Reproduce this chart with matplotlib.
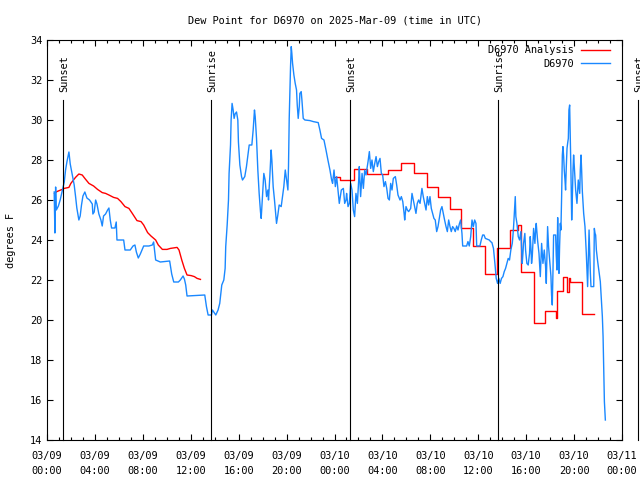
import matplotlib
matplotlib.use("Agg")
import matplotlib.pyplot as plt
from matplotlib.ticker import MultipleLocator, FixedLocator

# hours since 03/09 00:00 UTC
obs_hours = [0.60, 0.66, 0.72, 0.78, 0.95, 1.10, 1.25, 1.32, 1.44, 1.55, 1.66, 1.83, 1.94, 2.10,
             2.27, 2.38, 2.49, 2.66, 2.77, 2.88, 3.00, 3.16, 3.33, 3.55, 3.78, 3.83, 3.94, 4.06,
             4.17, 4.33, 4.50, 4.61, 4.72, 4.89, 5.06, 5.17, 5.28, 5.39, 5.67, 5.78, 5.84, 6.40,
             6.51, 6.95, 7.18, 7.34, 7.46, 7.62, 7.79, 8.07, 8.51, 8.79, 8.90, 9.07, 9.46, 10.24,
             10.41, 10.58, 10.97, 11.13, 11.36, 11.47, 11.58, 11.69, 13.17, 13.31, 13.45, 13.73,
             13.81, 13.92, 14.09, 14.28, 14.42, 14.59, 14.76, 14.87, 14.92, 15.04, 15.15, 15.20,
             15.32, 15.37, 15.45, 15.54, 15.62, 15.70, 15.82, 15.93, 15.98, 16.10, 16.24, 16.32,
             16.51, 16.65, 16.76, 16.88, 17.10, 17.21, 17.32, 17.38, 17.49, 17.60, 17.71, 17.82,
             17.88, 17.99, 18.10, 18.21, 18.33, 18.44, 18.49, 18.60, 18.71, 18.77, 18.88, 18.99,
             19.11, 19.16, 19.27, 19.38, 19.55, 19.66, 19.77, 19.89, 20.00, 20.11, 20.16, 20.22,
             20.28, 20.33, 20.39, 20.44, 20.50, 20.61, 20.72, 20.83, 20.89, 20.97, 21.06, 21.11,
             21.22, 21.28, 21.39, 21.53, 21.95, 22.23, 22.64, 22.78, 22.92, 23.12, 23.29, 23.45,
             23.62, 23.76, 23.84, 23.96, 24.07, 24.18, 24.29, 24.40, 24.57, 24.74, 24.85, 24.96,
             25.01, 25.13, 25.24, 25.35, 25.46, 25.57, 25.68, 25.79, 25.91, 26.02, 26.07, 26.18,
             26.30, 26.41, 26.52, 26.63, 26.80, 26.91, 27.02, 27.13, 27.24, 27.36, 27.47, 27.58,
             27.69, 27.80, 27.91, 28.02, 28.13, 28.25, 28.36, 28.47, 28.58, 28.69, 28.80, 28.91,
             29.08, 29.19, 29.30, 29.47, 29.58, 29.70, 29.81, 29.86, 29.97, 30.08, 30.19, 30.36,
             30.47, 30.58, 30.69, 30.80, 30.91, 31.02, 31.14, 31.30, 31.41, 31.53, 31.64, 31.75,
             31.86, 31.97, 32.08, 32.19, 32.30, 32.41, 32.53, 32.64, 32.75, 32.86, 32.97, 33.08,
             33.19, 33.31, 33.42, 33.53, 33.64, 33.75, 33.86, 33.97, 34.08, 34.20, 34.31, 34.42,
             34.53, 34.64, 34.70, 35.03, 35.14, 35.25, 35.37, 35.48, 35.59, 35.70, 35.81, 35.87,
             36.14, 36.25, 36.37, 36.48, 36.59, 36.81, 36.92, 37.03, 37.14, 37.27, 37.39, 37.50,
             37.61, 37.72, 37.83, 37.94, 38.06, 38.17, 38.28, 38.39, 38.50, 38.61, 38.72, 38.84,
             38.89, 38.95, 39.03, 39.09, 39.14, 39.23, 39.34, 39.45, 39.56, 39.67, 39.73, 39.78,
             39.89, 39.95, 40.06, 40.17, 40.28, 40.34, 40.40, 40.45, 40.51, 40.62, 40.73, 40.79,
             40.84, 40.95, 41.07, 41.18, 41.29, 41.40, 41.51, 41.62, 41.68, 41.73, 41.79, 41.87,
             41.96, 42.07, 42.12, 42.18, 42.24, 42.29, 42.46, 42.51, 42.57, 42.63, 42.68, 42.74,
             42.79, 42.85, 42.90, 42.96, 43.02, 43.07, 43.13, 43.18, 43.24, 43.29, 43.35, 43.41,
             43.46, 43.52, 43.57, 43.63, 43.69, 43.74, 43.80, 43.85, 43.91, 43.96, 44.02, 44.08,
             44.13, 44.24, 44.30, 44.35, 44.47, 44.52, 44.58, 44.63, 44.69, 44.80, 44.91, 45.02,
             45.08, 45.13, 45.19, 45.25, 45.30, 45.36, 45.41, 45.64, 45.69, 45.75, 45.80, 45.86,
             45.97, 46.08, 46.19, 46.25, 46.36, 46.42, 46.47, 46.53, 46.61]
obs_dewp = [26.4, 24.35, 26.65, 25.5, 25.7, 26.0, 26.4, 26.6, 26.9, 27.5, 27.9, 28.4, 27.8, 27.3,
            26.75, 26.2, 25.6, 25.0, 25.2, 25.75, 26.2, 26.4, 26.1, 26.0, 25.8, 25.3, 25.4, 26.0,
            25.8, 25.3, 25.0, 24.7, 25.2, 25.3, 25.5, 25.6, 25.0, 24.6, 24.6, 24.9, 24.0, 24.0,
            23.5, 23.5, 23.7, 23.75, 23.4, 23.1, 23.3, 23.7, 23.7, 23.75, 23.9, 23.0, 22.9, 22.95,
            22.3, 21.9, 21.9, 22.0, 22.2, 22.05, 21.75, 21.2, 21.25, 20.67, 20.25, 20.25,
            20.5, 20.4, 20.25, 20.5, 20.83, 21.75, 22.0, 22.58, 23.67, 24.75, 26.0, 27.33,
            28.75, 30.0, 30.83, 30.5, 30.08, 30.3, 30.4, 30.0, 28.9, 27.75, 27.17, 27.0,
            27.17, 27.67, 28.17, 28.75, 28.75, 29.5, 30.5, 30.17, 29.08, 27.5, 26.33, 25.42,
            25.08, 26.17, 27.33, 27.0, 26.17, 26.5, 26.0, 27.17, 28.5, 28.0, 26.67, 26.0,
            25.17, 24.83, 25.25, 25.75, 25.67, 26.17, 26.67, 27.5, 27.0, 26.5, 27.67, 30.08,
            31.5, 32.67, 33.67, 33.33, 32.83, 32.25, 31.83, 31.5, 30.75, 30.08, 30.67, 31.33,
            31.42, 31.0, 30.08, 30.0, 29.97, 29.92, 29.87, 29.5, 29.08, 29.0, 28.5, 28.0,
            27.5, 27.0, 26.83, 27.5, 26.67, 27.17, 26.5, 25.83, 26.5, 26.58, 25.83, 26.0,
            26.33, 25.67, 25.83, 26.83, 26.5, 25.5, 25.17, 26.33, 25.83, 27.0, 27.67, 26.17,
            27.33, 26.58, 27.5, 27.25, 27.92, 28.42, 27.58, 28.0, 27.42, 27.83, 28.17, 27.67,
            27.92, 28.08, 27.33, 27.25, 26.67, 26.92, 26.58, 26.08, 26.0, 26.83, 26.5, 27.08,
            27.17, 26.75, 26.25, 26.0, 26.17, 25.92, 25.33, 25.0, 25.67, 25.5, 25.42, 25.58,
            26.33, 26.0, 25.67, 25.33, 25.83, 26.0, 25.83, 26.58, 26.17, 25.83, 25.5, 26.17,
            25.75, 26.17, 25.58, 25.33, 25.08, 25.0, 24.42, 24.67, 25.08, 25.5, 25.67, 25.33,
            25.0, 24.67, 24.42, 25.0, 24.67, 24.42, 24.67, 24.58, 24.42, 24.7, 24.5, 24.8,
            25.0, 24.33, 23.7, 23.7, 23.92, 23.7, 24.17, 25.0, 24.67, 25.0, 24.83, 23.7,
            23.7, 24.0, 24.25, 24.25, 24.08, 24.03, 24.0, 23.92, 23.87, 23.58, 22.83, 22.08,
            21.83, 22.08, 21.83, 22.08, 22.17, 22.42, 22.58, 22.83, 23.08, 23.0, 23.5, 23.83,
            24.17, 24.67, 25.5, 26.17, 25.17, 24.83, 24.17, 24.0, 24.42, 22.83, 23.33, 23.83,
            24.33, 23.5, 22.83, 22.75, 23.33, 24.17, 23.58, 22.83, 23.17, 24.58, 23.83, 24.5,
            24.83, 24.0, 23.33, 22.17, 23.83, 22.83, 23.5, 22.67, 21.83, 23.08, 24.67, 23.67,
            23.0, 22.17, 21.25, 20.75, 22.5, 24.25, 24.25, 23.25, 22.5, 25.12, 23.5, 22.33,
            23.67, 24.83, 24.5, 26.17, 28.25, 28.67, 28.17, 27.5, 27.0, 26.5, 27.67, 28.58,
            28.83, 29.08, 30.5, 30.75, 29.0, 27.33, 25.0, 26.0, 27.5, 28.25, 27.67, 27.0,
            26.5, 25.83, 26.42, 27.0, 26.33, 27.5, 28.25, 27.5, 26.42, 25.33, 24.67, 23.33,
            22.42, 21.67, 23.0, 24.5, 23.5, 22.33, 21.67, 21.67, 24.58, 24.33, 24.25, 23.5,
            22.92, 22.42, 21.92, 21.33, 20.17, 19.17, 17.75, 15.92, 15.0]

# analysis, first night (smooth) and second day (hourly steps)
ana1_hours = [0.63, 0.82, 1.27, 1.44, 1.83, 1.99, 2.38, 2.66, 2.94, 3.16, 3.50, 3.89, 4.22, 4.61,
              4.89, 5.17, 5.56, 5.89, 6.17, 6.51, 6.84, 7.12, 7.51, 7.85, 8.07, 8.40, 8.68, 9.07,
              9.29, 9.63, 10.02, 10.30, 10.86, 11.02, 11.25, 11.47, 11.69, 12.03, 12.30, 12.53, 12.81]
ana1_dewp = [26.33, 26.42, 26.53, 26.58, 26.63, 26.83, 27.13, 27.3, 27.25, 27.08, 26.83, 26.7, 26.53,
             26.37, 26.33, 26.25, 26.13, 26.08, 25.92, 25.67, 25.58, 25.33, 24.97, 24.92, 24.75,
             24.37, 24.2, 24.0, 23.75, 23.53, 23.53, 23.58, 23.63, 23.5, 23.0, 22.58, 22.25, 22.22,
             22.17, 22.08, 22.03]
ana2_hours = [23.98, 24.46, 25.60, 26.69, 28.50, 29.56, 30.64, 31.68, 32.68, 33.68, 34.57, 35.58,
              36.55, 37.56, 38.62, 39.30, 39.60, 40.65, 41.57, 42.45, 42.60, 43.10, 43.44, 43.55,
              43.70, 44.62, 45.69]
ana2_dewp = [27.17, 27.0, 27.53, 27.3, 27.5, 27.83, 27.33, 26.63, 26.13, 25.53, 24.58, 23.7,
             22.3, 23.58, 24.5, 24.75, 22.42, 19.83, 20.45, 20.08, 21.47, 22.17, 21.42, 22.08,
             21.92, 20.28, 20.28]

sun_hours = [1.32, 13.68, 25.30, 37.66, 49.36]
sun_names = ["Sunset", "Sunrise", "Sunset", "Sunrise", "Sunset"]

tick_hours = [0, 4, 8, 12, 16, 20, 24, 28, 32, 36, 40, 44, 48]
tick_labels = ["03/09\n00:00", "03/09\n04:00", "03/09\n08:00", "03/09\n12:00", "03/09\n16:00",
               "03/09\n20:00", "03/10\n00:00", "03/10\n04:00", "03/10\n08:00", "03/10\n12:00",
               "03/10\n16:00", "03/10\n20:00", "03/11\n00:00"]

plt.rcParams['font.family'] = 'DejaVu Sans Mono'
plt.rcParams['font.size'] = 7.4

fig = plt.figure(figsize=(6.4, 4.8), dpi=100)
ax = fig.add_axes([47/640, 40/480, 575/640, 400/480])

red = '#ff0000'
blue = '#1a88ff'
lw = 0.8
dlw = 1.0

ax.plot(ana1_hours, ana1_dewp, color=red, lw=dlw, label='D6970 Analysis')
ax.plot(ana2_hours, ana2_dewp, color=red, lw=dlw, drawstyle='steps-post')
ax.plot(obs_hours, obs_dewp, color=blue, lw=dlw, label='D6970')

for t, name in zip(sun_hours, sun_names):
    ax.plot([t, t], [14, 31], color='black', lw=lw, clip_on=False)
    ax.text(t + 0.1, 31.4, name, rotation=90, ha='center', va='bottom', clip_on=False)

ax.set_xlim(0, 48)
ax.set_ylim(14, 34)
ax.xaxis.set_major_locator(FixedLocator(tick_hours))
ax.set_xticklabels(tick_labels)
for lab in ax.get_xticklabels():
    lab.set_linespacing(1.65)
ax.xaxis.set_minor_locator(MultipleLocator(1))
ax.yaxis.set_major_locator(MultipleLocator(2))
ax.tick_params(which='both', direction='in', top=True, right=True, width=lw)
ax.tick_params(which='major', length=4.5)
ax.tick_params(axis='x', which='major', pad=8)
ax.tick_params(which='minor', length=2.5)
for s in ax.spines.values():
    s.set_linewidth(lw)

ax.set_ylabel('degrees F', labelpad=10)
ax.set_title('Dew Point for D6970 on 2025-Mar-09 (time in UTC)', fontsize=7.4, pad=12)

ax.legend(loc='upper right', bbox_to_anchor=(1 - 7/575, 1.0), frameon=False, markerfirst=False,
          handlelength=2.8, handletextpad=0.7, labelspacing=0.35, borderaxespad=0.2, borderpad=0.3)

fig.savefig('out.png', dpi=100)
